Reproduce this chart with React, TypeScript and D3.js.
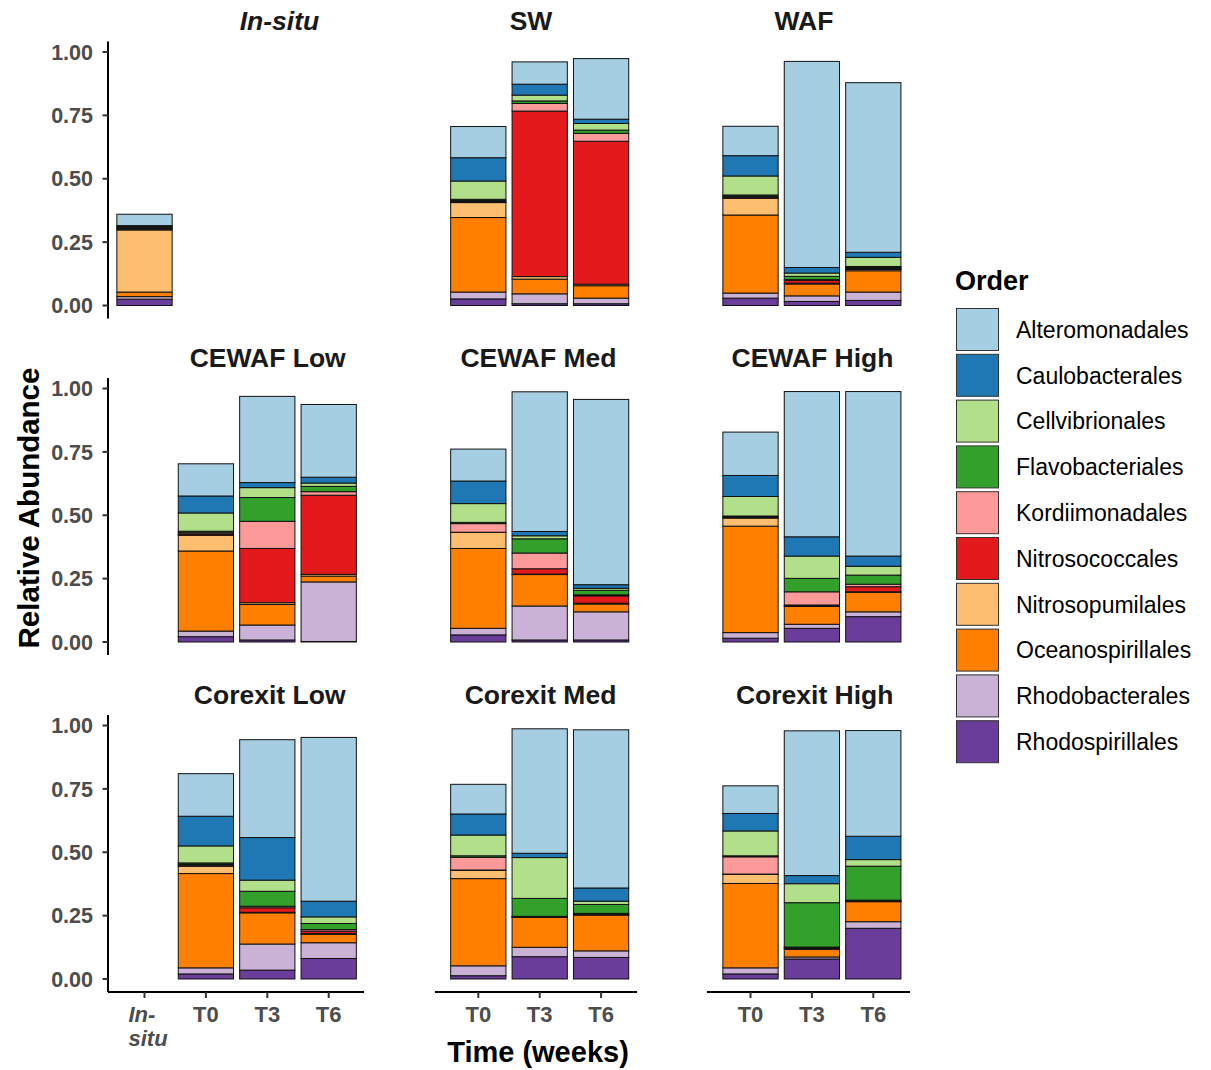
import React from "react";
import * as d3 from "d3";

// ---------- DATA ----------
const orders = [
  "Alteromonadales",
  "Caulobacterales",
  "Cellvibrionales",
  "Flavobacteriales",
  "Kordiimonadales",
  "Nitrosococcales",
  "Nitrosopumilales",
  "Oceanospirillales",
  "Rhodobacterales",
  "Rhodospirillales",
];
const orderColors = [
  "#A6CEE3", "#1F78B4", "#B2DF8A", "#33A02C", "#FB9A99",
  "#E31A1C", "#FDBF6F", "#FF7F00", "#CAB2D6", "#6A3D9A",
];

const facets = [
  "In-situ", "SW", "WAF",
  "CEWAF Low", "CEWAF Med", "CEWAF High",
  "Corexit Low", "Corexit Med", "Corexit High",
];

const sampleFacet = [
  "In-situ",
  "SW", "SW", "SW",
  "WAF", "WAF", "WAF",
  "CEWAF Low", "CEWAF Low", "CEWAF Low",
  "CEWAF Med", "CEWAF Med", "CEWAF Med",
  "CEWAF High", "CEWAF High", "CEWAF High",
  "Corexit Low", "Corexit Low", "Corexit Low",
  "Corexit Med", "Corexit Med", "Corexit Med",
  "Corexit High", "Corexit High", "Corexit High",
];
const sampleTime = [
  "In-situ",
  "T0", "T3", "T6", "T0", "T3", "T6", "T0", "T3", "T6",
  "T0", "T3", "T6", "T0", "T3", "T6", "T0", "T3", "T6",
  "T0", "T3", "T6", "T0", "T3", "T6",
];

// relative abundance per order, one value per sample (order of sampleFacet)
const alteromonadales = [0.045, 0.123, 0.088, 0.239, 0.116, 0.813, 0.669, 0.127, 0.34, 0.287, 0.126, 0.551, 0.731, 0.171, 0.573, 0.649, 0.168, 0.386, 0.646, 0.117, 0.491, 0.624, 0.109, 0.571, 0.417];
const caulobacterales = [0.003, 0.092, 0.043, 0.017, 0.08, 0.022, 0.02, 0.067, 0.02, 0.023, 0.089, 0.017, 0.014, 0.083, 0.076, 0.04, 0.117, 0.168, 0.062, 0.083, 0.017, 0.052, 0.069, 0.032, 0.092];
const cellvibrionales = [0.004, 0.072, 0.023, 0.026, 0.075, 0.013, 0.036, 0.072, 0.039, 0.013, 0.074, 0.012, 0.008, 0.077, 0.088, 0.035, 0.067, 0.044, 0.026, 0.082, 0.161, 0.013, 0.098, 0.075, 0.026];
const flavobacteriales = [0.004, 0.005, 0.01, 0.013, 0.005, 0.013, 0.004, 0.006, 0.094, 0.021, 0.005, 0.056, 0.018, 0.003, 0.053, 0.036, 0.005, 0.059, 0.024, 0.006, 0.071, 0.035, 0.004, 0.175, 0.134];
const kordiimonadales = [0.003, 0.004, 0.03, 0.031, 0.004, 0.003, 0.004, 0.005, 0.107, 0.014, 0.034, 0.062, 0.004, 0.003, 0.052, 0.01, 0.004, 0.006, 0.006, 0.05, 0.001, 0.002, 0.068, 0.003, 0.002];
const nitrosococcales = [0.003, 0.004, 0.653, 0.564, 0.004, 0.011, 0.004, 0.005, 0.214, 0.312, 0.001, 0.021, 0.029, 0.002, 0.003, 0.02, 0.004, 0.018, 0.01, 0.001, 0.002, 0.003, 0.001, 0.003, 0.002];
const nitrosopumilales = [0.245, 0.059, 0.01, 0.006, 0.066, 0.003, 0.005, 0.062, 0.007, 0.007, 0.063, 0.002, 0.003, 0.032, 0.003, 0.002, 0.029, 0.002, 0.003, 0.033, 0.001, 0.002, 0.036, 0.003, 0.002];
const oceanospirillales = [0.018, 0.294, 0.058, 0.049, 0.308, 0.047, 0.084, 0.316, 0.081, 0.023, 0.315, 0.124, 0.031, 0.42, 0.07, 0.077, 0.372, 0.123, 0.033, 0.344, 0.118, 0.141, 0.333, 0.03, 0.079];
const rhodobacterales = [0.01, 0.027, 0.039, 0.022, 0.02, 0.022, 0.033, 0.022, 0.059, 0.235, 0.026, 0.134, 0.111, 0.022, 0.016, 0.019, 0.024, 0.103, 0.062, 0.039, 0.037, 0.026, 0.024, 0.008, 0.026];
const rhodospirillales = [0.025, 0.026, 0.007, 0.007, 0.029, 0.016, 0.02, 0.021, 0.008, 0.002, 0.028, 0.008, 0.008, 0.015, 0.054, 0.1, 0.02, 0.035, 0.081, 0.013, 0.088, 0.085, 0.02, 0.079, 0.2];

const orderValues = [
  alteromonadales, caulobacterales, cellvibrionales, flavobacteriales, kordiimonadales,
  nitrosococcales, nitrosopumilales, oceanospirillales, rhodobacterales, rhodospirillales,
];

const yTicks = [0, 0.25, 0.5, 0.75, 1];
const yTickLabels = ["0.00", "0.25", "0.50", "0.75", "1.00"];
const timesCol1 = ["In-situ", "T0", "T3", "T6"];
const timesOther = ["T0", "T3", "T6"];

// ---------- LAYOUT ----------
const W = 1211;
const H = 1070;
const FONT = "'Liberation Sans', Arial, Helvetica, sans-serif";
const rowBase = [305.5, 642, 979];
const colLayout = [
  { axis0: 108, axis1: 364, band0: 113.8, band1: 359.4, domain: timesCol1 },
  { axis0: 435, axis1: 637, band0: 447.6, band1: 631.8, domain: timesOther },
  { axis0: 707, axis1: 910, band0: 719.8, band1: 904, domain: timesOther },
];
const titleCenters = [279.5, 531, 804, 267.7, 538.5, 812.5, 269.7, 540.5, 814.7];

// stack table
const table = sampleFacet.map((f, i) => {
  const row: any = { facet: f, time: sampleTime[i] };
  orders.forEach((o, k) => (row[o] = orderValues[k][i]));
  return row;
});
const stackKeys = orders.slice().reverse(); // bottom -> top
const stacked = d3.stack().keys(stackKeys)(table);
const colorScale = d3.scaleOrdinal<string, string>().domain(orders).range(orderColors);

export default function App() {
  const panels = facets.map((facet, fi) => {
    const r = Math.floor(fi / 3);
    const c = fi % 3;
    const cl = colLayout[c];
    const x = d3
      .scaleBand<string>()
      .domain(cl.domain)
      .range([cl.band0, cl.band1])
      .paddingInner(0.1)
      .paddingOuter(0.05);
    const y = d3.scaleLinear().domain([0, 1]).range([rowBase[r], rowBase[r] - 253.5]);
    const rects: any[] = [];
    stacked.forEach((series) => {
      series.forEach((d: any, i: number) => {
        if (table[i].facet !== facet) return;
        const t = table[i].time;
        rects.push(
          <rect
            key={series.key + "-" + i}
            x={x(t)}
            width={x.bandwidth()}
            y={y(d[1])}
            height={Math.max(0, y(d[0]) - y(d[1]))}
            fill={colorScale(series.key)}
            stroke="#111"
            strokeWidth={1}
          />
        );
      });
    });
    const titleY = rowBase[r] - 275.5;
    return (
      <g key={facet}>
        <text
          x={titleCenters[fi]}
          y={titleY}
          textAnchor="middle"
          fontFamily={FONT}
          fontWeight="bold"
          fontStyle={facet === "In-situ" ? "italic" : "normal"}
          fontSize={26.5}
          fill="#1a1a1a"
        >
          {facet}
        </text>
        {rects}
        {c === 0 && (
          <g>
            <line
              x1={cl.axis0}
              x2={cl.axis0}
              y1={rowBase[r] - 264}
              y2={rowBase[r] + 13}
              stroke="#000"
              strokeWidth={2}
            />
            {yTicks.map((t, k) => (
              <g key={k}>
                <line x1={cl.axis0 - 5.5} x2={cl.axis0} y1={y(t)} y2={y(t)} stroke="#333" strokeWidth={2} />
                <text
                  x={cl.axis0 - 15}
                  y={y(t)}
                  dy="0.36em"
                  textAnchor="end"
                  fontFamily={FONT}
                  fontWeight="bold"
                  fontSize={21.5}
                  fill="#4d4d4d"
                >
                  {yTickLabels[k]}
                </text>
              </g>
            ))}
          </g>
        )}
        {r === 2 && (
          <g>
            <line x1={cl.axis0} x2={cl.axis1} y1={rowBase[r] + 13} y2={rowBase[r] + 13} stroke="#000" strokeWidth={2} />
            {cl.domain.map((t) => {
              const cx = (x(t) as number) + x.bandwidth() / 2;
              return (
                <g key={t}>
                  <line x1={cx} x2={cx} y1={rowBase[r] + 13} y2={rowBase[r] + 19} stroke="#333" strokeWidth={2} />
                  {t === "In-situ" ? (
                    <text
                      fontFamily={FONT}
                      fontWeight="bold"
                      fontStyle="italic"
                      fontSize={22}
                      fill="#4d4d4d"
                    >
                      <tspan x={cx - 16} y={rowBase[r] + 43}>In-</tspan>
                      <tspan x={cx - 16} y={rowBase[r] + 67}>situ</tspan>
                    </text>
                  ) : (
                    <text
                      x={cx}
                      y={rowBase[r] + 43}
                      textAnchor="middle"
                      fontFamily={FONT}
                      fontWeight="bold"
                      fontSize={22}
                      fill="#4d4d4d"
                    >
                      {t}
                    </text>
                  )}
                </g>
              );
            })}
          </g>
        )}
      </g>
    );
  });

  const legendTop = 308.5;
  const legendStep = 45.8;
  return (
    <svg
      width={W}
      height={H}
      style={{ position: "absolute", left: 0, top: 0, background: "#fff" }}
    >
      <rect x={0} y={0} width={W} height={H} fill="#fff" />
      {panels}
      <text
        transform={`translate(39,508) rotate(-90)`}
        textAnchor="middle"
        fontFamily={FONT}
        fontWeight="bold"
        fontSize={29.5}
        fill="#000"
      >
        Relative Abundance
      </text>
      <text x={538} y={1062} textAnchor="middle" fontFamily={FONT} fontWeight="bold" fontSize={29} fill="#000">
        Time (weeks)
      </text>
      <text x={955} y={290} fontFamily={FONT} fontWeight="bold" fontSize={27} fill="#000">
        Order
      </text>
      {orders.map((o, k) => (
        <g key={o}>
          <rect
            x={956.5}
            y={legendTop + k * legendStep}
            width={42}
            height={42}
            fill={colorScale(o)}
            stroke="#333"
            strokeWidth={1}
          />
          <text
            x={1016}
            y={legendTop + k * legendStep + 21}
            dy="0.36em"
            fontFamily={FONT}
            fontSize={23}
            fill="#000"
          >
            {o}
          </text>
        </g>
      ))}
    </svg>
  );
}
